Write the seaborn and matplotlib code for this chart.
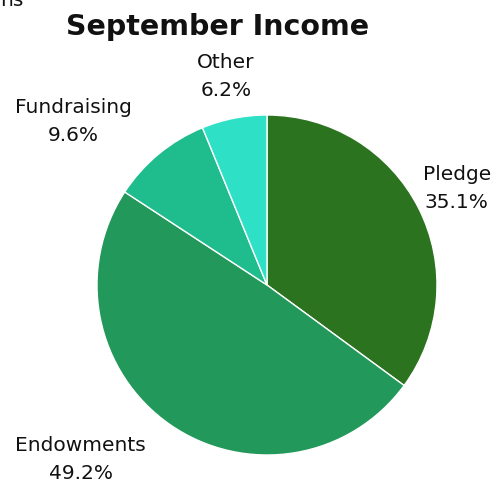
import matplotlib
matplotlib.use("Agg")
import matplotlib.pyplot as plt
import numpy as np
import seaborn as sns

sns.set_theme(style="white")
plt.rcParams['font.family'] = ['DejaVu Sans']

categories = ["Pledge", "Endowments", "Fundraising", "Other"]
values = [35.1, 49.2, 9.6, 6.2]
colors = ["#2c731f", "#22985a", "#1fbc8e", "#2ee0c6"]

W, H = 492, 482
fig = plt.figure(figsize=(W / 100, H / 100), dpi=100)
cx, cy, r = 267, 285, 170
ax = fig.add_axes([(cx - r) / W, (H - cy - r) / H, 2 * r / W, 2 * r / H])

wedges, _ = ax.pie(
    values, colors=colors, startangle=90, counterclock=False,
    wedgeprops=dict(edgecolor="white", linewidth=1.0),
)
ax.set_xlim(-1, 1)
ax.set_ylim(-1, 1)
ax.set_aspect("equal")
ax.axis("off")

# outside labels: anchored at 1.25 r along each slice's mid angle
total = sum(values)
start = 0.0
texts = []
for c, v in zip(categories, values):
    mid = np.deg2rad(90 - 360 * (start + v / 2) / total)
    start += v
    x, y = 1.25 * np.cos(mid), 1.25 * np.sin(mid)
    if abs(np.cos(mid)) < 0.3:
        ha = "center"
    elif x < 0:
        ha = "right"
    else:
        ha = "left"
    t = ax.text(x, y, f"{c}\n{v:.1f}%", ha=ha, va="center", multialignment="center",
                fontsize=14.5, color="#111111", linespacing=1.6, clip_on=False)
    texts.append(t)

# keep labels inside the figure
fig.canvas.draw()
renderer = fig.canvas.get_renderer()
for t in texts:
    bb = t.get_window_extent(renderer)
    dx = 0
    if bb.x1 > W - 1:
        dx = (W - 1) - bb.x1
    elif bb.x0 < 1:
        dx = 1 - bb.x0
    if dx:
        px, py = ax.transData.transform(t.get_position())
        t.set_position(ax.transData.inverted().transform((px + dx, py)))

fig.text(218 / W, 1 - 27 / H, "September Income", ha="center", va="center",
         fontsize=20.5, fontweight="bold", color="#111111")
fig.text(0.0, 1 - 6 / H, "ns", ha="left", va="baseline", fontsize=14.5, color="#111111")

fig.savefig("out.png", dpi=100)
